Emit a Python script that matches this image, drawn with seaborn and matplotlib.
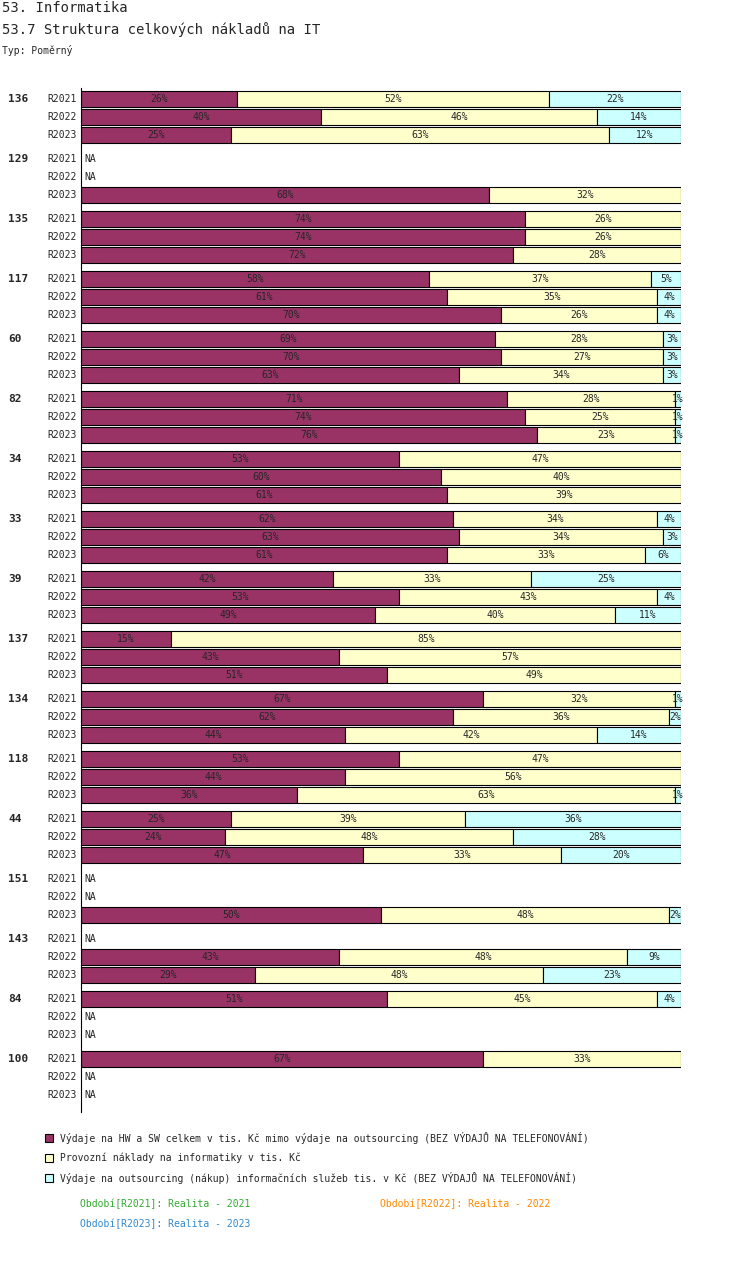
import matplotlib
matplotlib.use("Agg")
import matplotlib.pyplot as plt
import seaborn as sns
import numpy as np

sns.set_style("white")
plt.rcParams['font.family'] = ['DejaVu Sans Mono']

groups = ["136","129","135","117","60","82","34","33","39","137","134","118","44","151","143","84","100"]
periods = ["R2021","R2022","R2023"]
NA = None
hw = [[26,40,25],[NA,NA,68],[74,74,72],[58,61,70],[69,70,63],[71,74,76],[53,60,61],[62,63,61],
      [42,53,49],[15,43,51],[67,62,44],[53,44,36],[25,24,47],[NA,NA,50],[NA,43,29],[51,NA,NA],[67,NA,NA]]
prov = [[52,46,63],[NA,NA,32],[26,26,28],[37,35,26],[28,27,34],[28,25,23],[47,40,39],[34,34,33],
        [33,43,40],[85,57,49],[32,36,42],[47,56,63],[39,48,33],[NA,NA,48],[NA,48,48],[45,NA,NA],[33,NA,NA]]
outs = [[22,14,12],[NA,NA,0],[0,0,0],[5,4,4],[3,3,3],[1,1,1],[0,0,0],[4,3,6],
        [25,4,11],[0,0,0],[1,2,14],[0,0,1],[36,28,20],[NA,NA,2],[NA,9,23],[4,NA,NA],[0,NA,NA]]
colors = ["#993366", "#FFFFCC", "#CCFFFF"]
legend_labels = ["Výdaje na HW a SW celkem v tis. Kč mimo výdaje na outsourcing (BEZ VÝDAJŮ NA TELEFONOVÁNÍ)",
                 "Provozní náklady na informatiky v tis. Kč",
                 "Výdaje na outsourcing (nákup) informačních služeb tis. v Kč (BEZ VÝDAJŮ NA TELEFONOVÁNÍ)"]

W, H = 750, 1262
fig = plt.figure(figsize=(W/100, H/100), dpi=100)
top, bot = 88, 1112
ax = fig.add_axes([81/W, 1-bot/H, 600/W, (bot-top)/H])
ax.set_xlim(0, 100)
ax.set_ylim(bot, top)
for s in ["top", "right", "bottom"]:
    ax.spines[s].set_visible(False)
ax.spines["left"].set_color("black")
ax.set_xticks([]); ax.set_yticks([])

def px(x):
    return (x - 81) / 6.0

fs = 7
for g, name in enumerate(groups):
    y0 = 99 + g*60
    ax.text(px(8), y0, name, ha="left", va="center", fontsize=8, fontweight="bold", clip_on=False)
    for r, p in enumerate(periods):
        y = y0 + r*18
        ax.text(px(47), y, p, ha="left", va="center", fontsize=fs, clip_on=False)
        vals = [hw[g][r], prov[g][r], outs[g][r]]
        if vals[0] is None:
            ax.text(px(84), y, "NA", ha="left", va="center", fontsize=fs)
            continue
        left = 0
        for v, c in zip(vals, colors):
            if v:
                ax.barh(y, v, left=left, height=16, color=c, edgecolor="black", linewidth=0.8)
                ax.text(left + v/2, y, f"{v}%", ha="center", va="center", fontsize=fs)
                left += v

for i, (lab, c) in enumerate(zip(legend_labels, colors)):
    y = 1138 + i*20
    fig.patches.append(plt.Rectangle((45/W, 1-(y+4)/H), 8/W, 8/H, transform=fig.transFigure,
                                     facecolor=c, edgecolor="black", linewidth=0.8))
    fig.text(60/W, 1-y/H, lab, fontsize=fs, va="center")

fig.text(80/W, 1-1204/H, "Období[R2021]: Realita - 2021", color="#33AA33", fontsize=fs, va="center")
fig.text(380/W, 1-1204/H, "Období[R2022]: Realita - 2022", color="#FF8800", fontsize=fs, va="center")
fig.text(80/W, 1-1224/H, "Období[R2023]: Realita - 2023", color="#3388CC", fontsize=fs, va="center")

fig.text(2/W, 1-8/H, "53. Informatika", fontsize=10, va="center")
fig.text(2/W, 1-30/H, "53.7 Struktura celkových nákladů na IT", fontsize=10, va="center")
fig.text(2/W, 1-50/H, "Typ: Poměrný", fontsize=7, va="center")

fig.savefig("out.png", dpi=100)
